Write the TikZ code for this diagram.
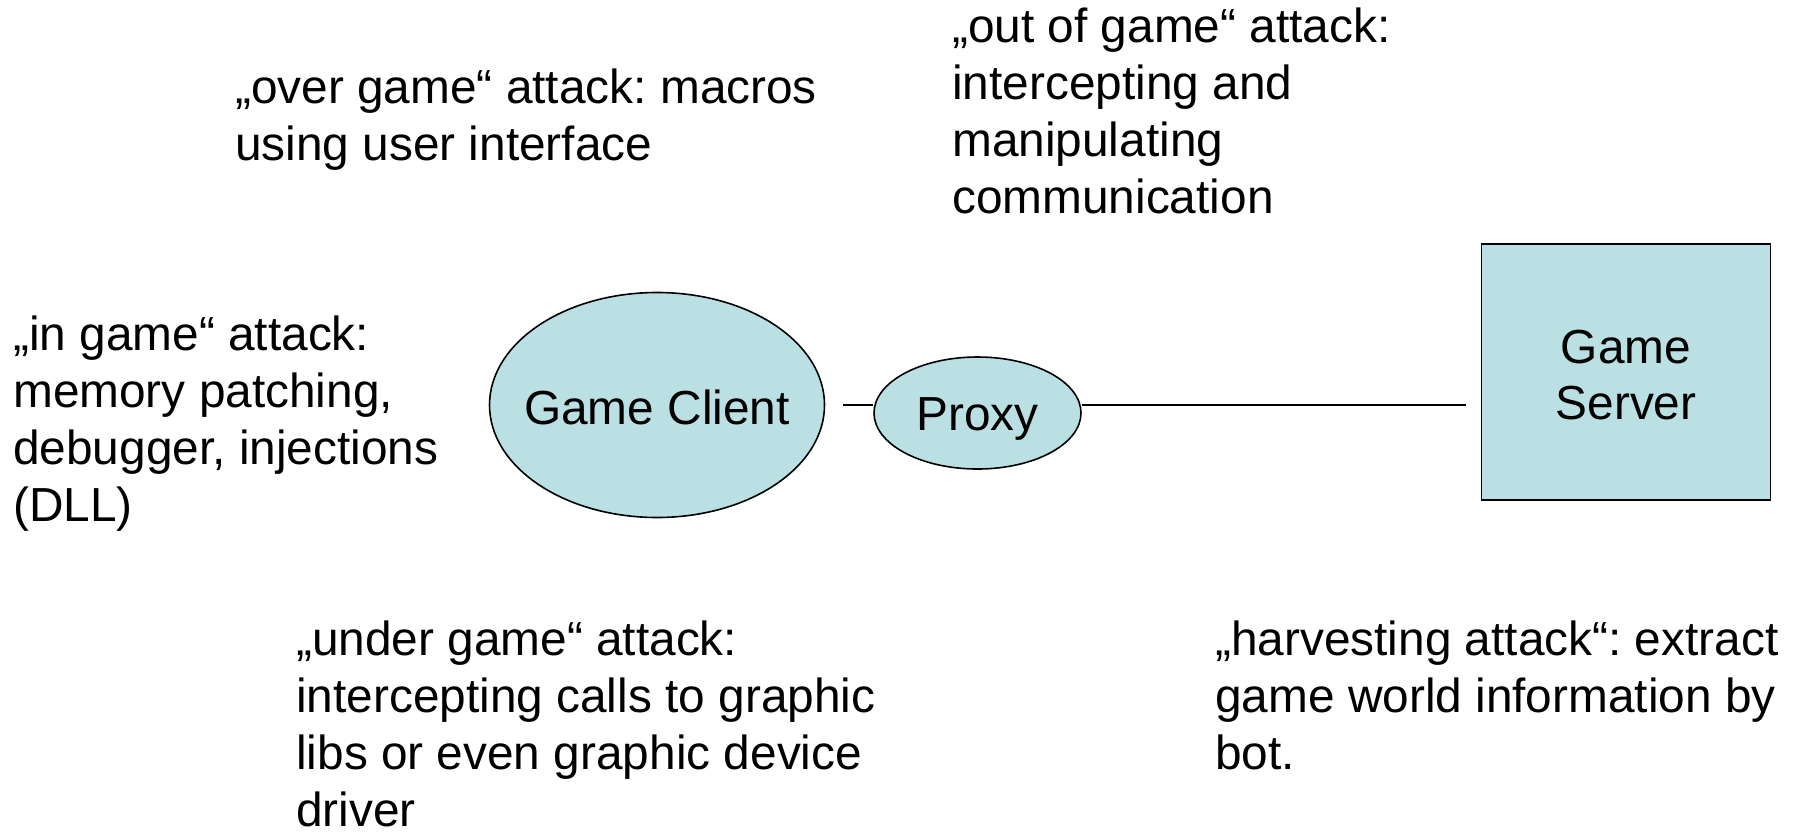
\documentclass[tikz,border=0pt]{standalone}
\usepackage{fontspec}
\setmainfont{Liberation Sans}
\usetikzlibrary{shapes.geometric}
\definecolor{boxfill}{HTML}{BBE0E3}
\tikzset{
  every picture/.style={x=1pt,y=-1pt},
  big/.style={font=\fontsize{47.8}{56.8}\selectfont},
  % anchored at the baseline of the last line
  note/.style={big, anchor=base west, align=left, inner sep=0pt},
  part/.style={draw=black, line width=1.6pt, fill=boxfill, inner sep=0pt},
  inlabel/.style={big, align=center},
  link/.style={line width=1.8pt},
}
\begin{document}
\frenchspacing
\begin{tikzpicture}
\useasboundingbox (0,0) rectangle (1798,833);

% components
\node[part, ellipse, minimum width=335pt, minimum height=225pt,
      label={[inlabel, yshift=-2pt]center:Game Client}] (client) at (657,405) {};
\node[part, ellipse, minimum width=207pt, minimum height=112pt,
      label={[inlabel, yshift=-6pt]center:Proxy}] (proxy) at (977.5,413) {};
\node[part, rectangle, minimum width=289pt, minimum height=256pt,
      label={[inlabel, yshift=-3pt]center:Game\\Server}] (server) at (1626,372) {};

% connections
\coordinate (cl) at (843,405);
\coordinate (sv) at (1465.5,405);
\draw[link] (cl) -- (proxy.west |- cl);
\draw[link] (proxy.east |- sv) -- (sv);

% attack descriptions
\node[note] (over) at (235,160) {„over game“ attack: macros\\using user interface};
\node[note] (outof) at (952,213) {„out of game“ attack:\\intercepting and\\manipulating\\communication};
\node[note] (ingame) at (13,521) {„in game“ attack:\\memory patching,\\debugger, injections\\(DLL)};
\node[note] (under) at (296,826) {„under game“ attack:\\intercepting calls to graphic\\libs or even graphic device\\driver};
\node[note] (harvest) at (1215,769) {„harvesting attack“: extract\\game world information by\\bot.};
\end{tikzpicture}
\end{document}
